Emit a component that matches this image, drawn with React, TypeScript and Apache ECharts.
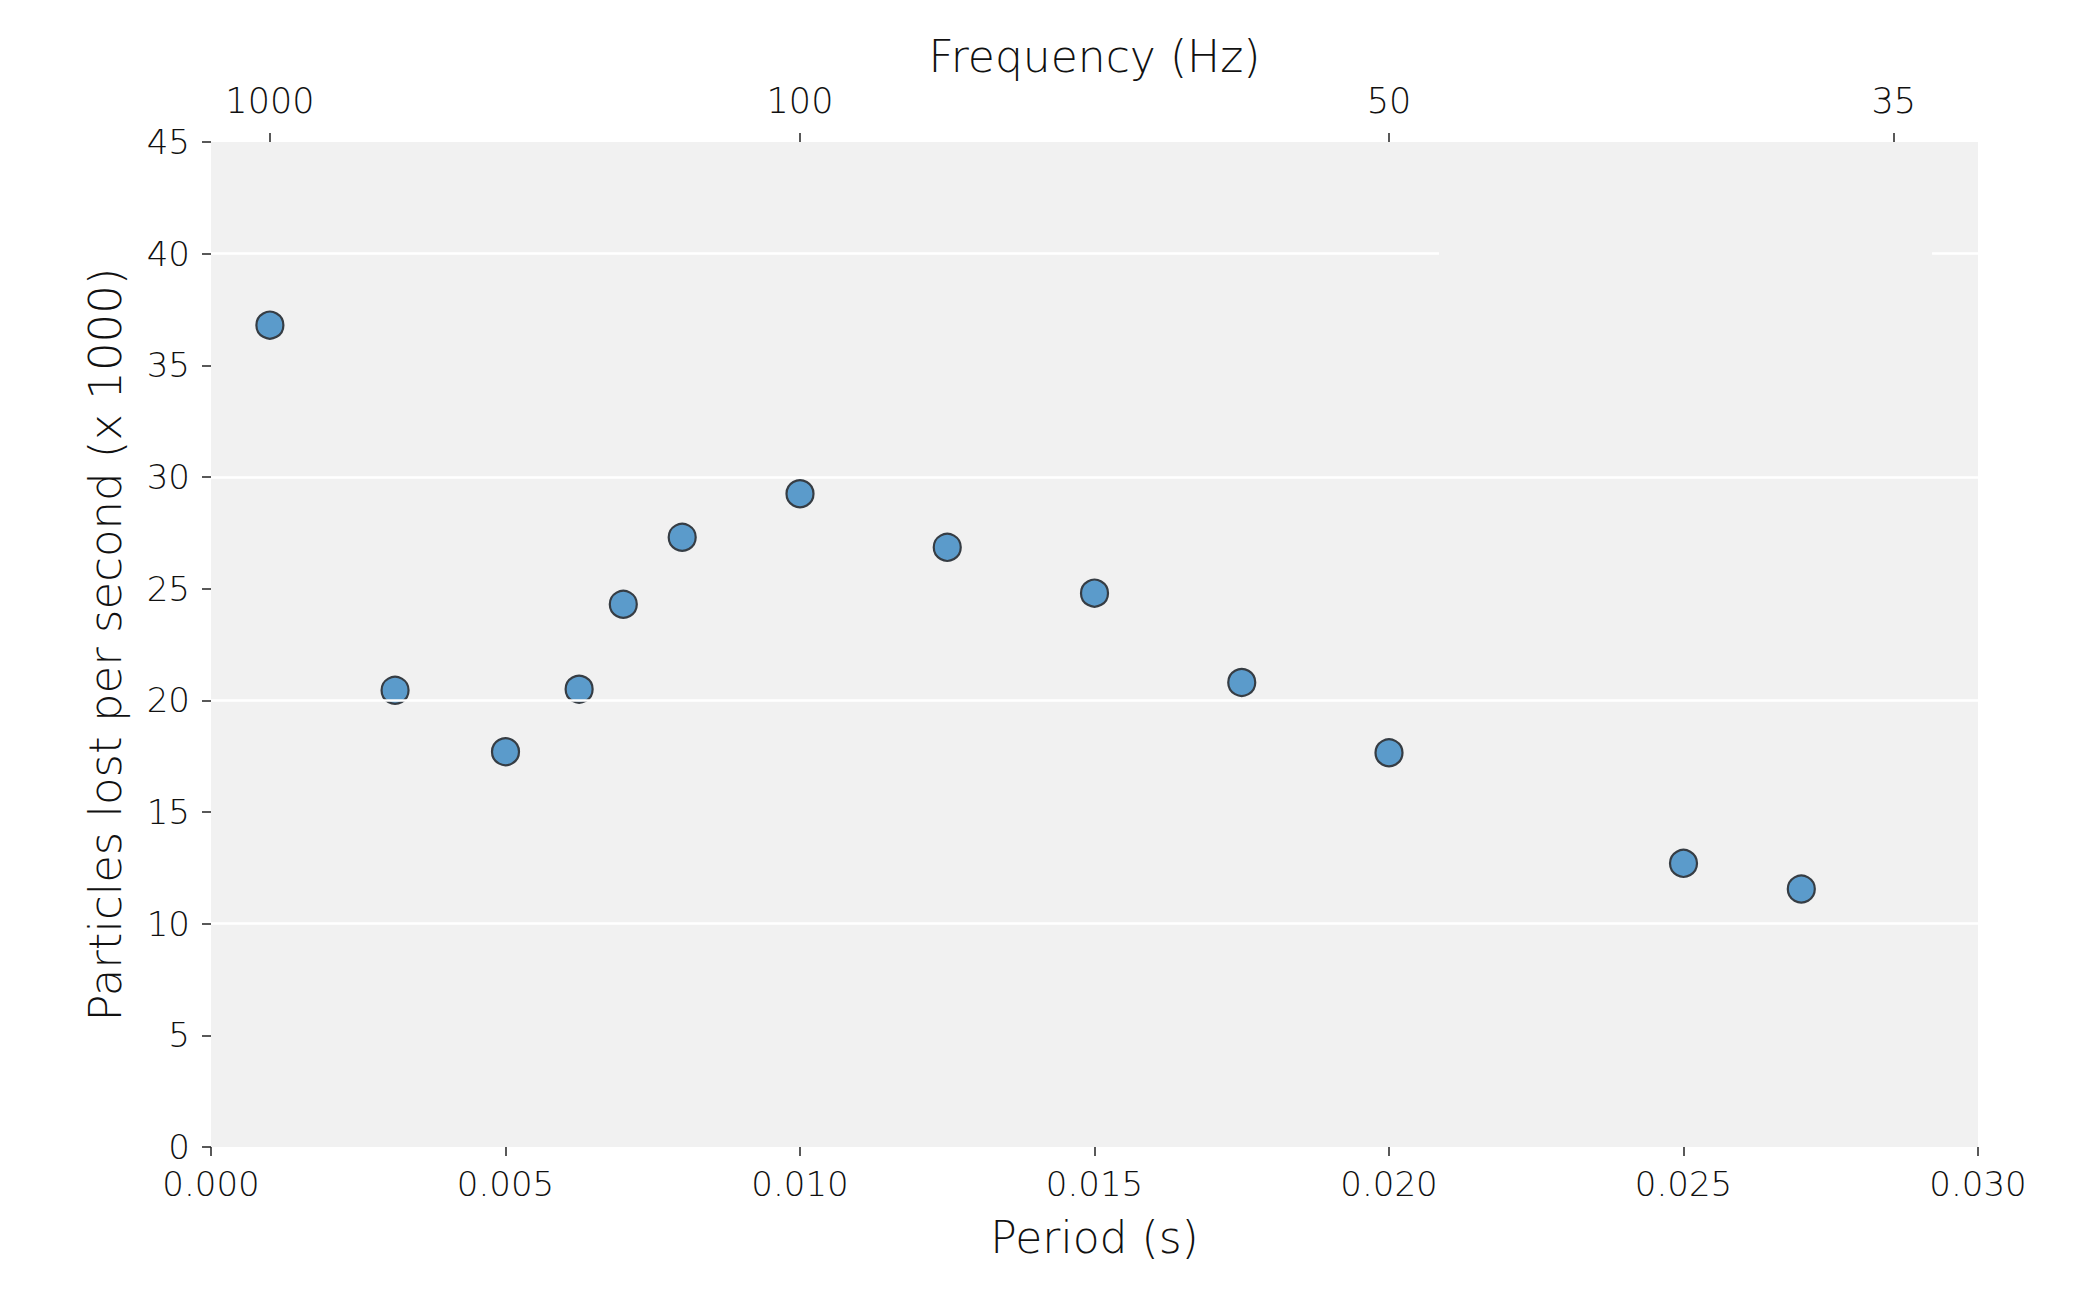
import React, { useEffect, useRef } from "react";
import * as echarts from "echarts";

const periods = [0.001, 0.003125, 0.005, 0.00625, 0.007, 0.008, 0.01, 0.0125, 0.015, 0.0175, 0.02, 0.025, 0.027];
const lossRates = [36.8, 20.45, 17.7, 20.5, 24.3, 27.3, 29.25, 26.85, 24.8, 20.8, 17.65, 12.7, 11.55];
const freqTicks = [1000, 100, 50, 35];
const gridValues = [10, 20, 30];
const gapGrid = { y: 40, gapFrom: 0.02085, gapTo: 0.02922 };

const FONT = "DejaVu Sans";

export default function App() {
  const ref = useRef<HTMLDivElement>(null);
  useEffect(() => {
    if (!ref.current) return;
    const chart = echarts.init(ref.current, null, { renderer: "svg" });
    const tickPeriods = freqTicks.map((f) => 1 / f);
    const textCommon = { fontFamily: FONT, fontWeight: 200 as any, color: "#111111" };
    chart.setOption({
      animation: false,
      backgroundColor: "#ffffff",
      grid: {
        left: 211,
        right: 104,
        top: 142,
        bottom: 143,
        show: true,
        backgroundColor: "#f1f1f1",
        borderWidth: 0,
      },
      xAxis: [
        {
          type: "value",
          position: "bottom",
          min: 0,
          max: 0.03,
          interval: 0.005,
          axisLine: { show: false },
          axisTick: { show: true, length: 9, lineStyle: { color: "#222", width: 1.5 } },
          splitLine: { show: false },
          axisLabel: { ...textCommon, fontSize: 34, lineHeight: 30, margin: 22, formatter: (v: number) => v.toFixed(3) },
          name: "Period (s)",
          nameLocation: "middle",
          nameGap: 68,
          nameTextStyle: { ...textCommon, fontSize: 44 },
        },
        {
          type: "value",
          position: "top",
          min: 0,
          max: 0.03,
          axisLine: { show: false },
          axisTick: { show: true, length: 9, customValues: tickPeriods, lineStyle: { color: "#222", width: 1.5 } },
          splitLine: { show: false },
          axisLabel: {
            ...textCommon,
            fontSize: 35,
            margin: 24,
            customValues: tickPeriods,
            formatter: (v: number) => String(Math.round(1 / v)),
          },
          name: "Frequency (Hz)",
          nameLocation: "middle",
          nameGap: 56,
          nameTextStyle: { ...textCommon, fontSize: 44 },
        },
      ],
      yAxis: {
        type: "value",
        min: 0,
        max: 45,
        interval: 5,
        axisLine: { show: false },
        axisTick: { show: true, length: 9, lineStyle: { color: "#222", width: 1.5 } },
        splitLine: { show: false },
        axisLabel: { ...textCommon, fontSize: 34, lineHeight: 28, margin: 21 },
        name: "Particles lost per second (x 1000)",
        nameLocation: "middle",
        nameGap: 83,
        nameTextStyle: { ...textCommon, fontSize: 45 },
      },
      series: [
        {
          type: "scatter",
          data: [],
          z: 1,
          silent: true,
          markLine: {
            silent: true,
            symbol: "none",
            label: { show: false },
            lineStyle: { color: "#ffffff", width: 2.5, type: "solid" },
            data: [
              ...gridValues.map((v) => ({ yAxis: v })),
              [{ coord: [0, gapGrid.y] }, { coord: [gapGrid.gapFrom, gapGrid.y] }],
              [{ coord: [gapGrid.gapTo, gapGrid.y] }, { coord: [0.03, gapGrid.y] }],
            ],
          },
        },
        {
          type: "scatter",
          z: 3,
          data: periods.map((p, i) => [p, lossRates[i]]),
          symbol: "circle",
          symbolSize: 27,
          itemStyle: { color: "#5b9bcb", opacity: 1, borderColor: "#363d44", borderWidth: 2.2 },
        },
      ],
    });
    return () => chart.dispose();
  }, []);
  return <div ref={ref} style={{ position: "absolute", left: 0, top: 0, width: 2082, height: 1290 }} />;
}
